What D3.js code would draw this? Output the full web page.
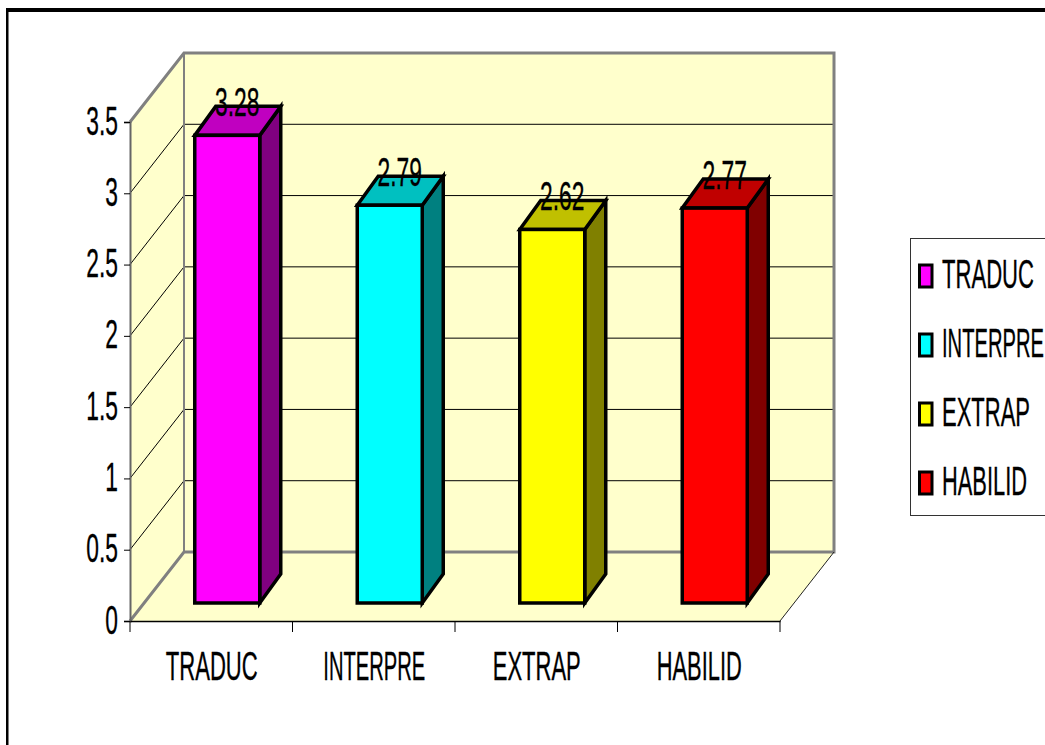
<!DOCTYPE html>
<html>
<head>
<meta charset="utf-8">
<script src="https://cdn.jsdelivr.net/npm/d3@7"></script>
<style>
html,body{margin:0;padding:0;background:#fff;overflow:hidden}
svg{display:block}
text{font-family:"Liberation Sans",Arial,sans-serif;fill:#000;stroke:#000;stroke-width:0.35px}
</style>
</head>
<body>
<svg id="chart" width="1045" height="745"></svg>
<script>
const categories = ["TRADUC", "INTERPRE", "EXTRAP", "HABILID"];
const values = [3.28, 2.79, 2.62, 2.77];
const frontColors = ["#ff00ff", "#00ffff", "#ffff00", "#ff0000"];
const topColors = ["#c000c0", "#00c0c0", "#c0c000", "#c00000"];
const sideColors = ["#800080", "#008080", "#808000", "#800000"];
const yTicks = [0, 0.5, 1, 1.5, 2, 2.5, 3, 3.5];

const svg = d3.select("#chart");

// Plot box: front plane plus the receding offset of the back wall
const left = 130, right = 780, floorY = 621, topY = 122;
const wallDx = 54, wallDy = -69;
const barDx = 21, barDy = -29;     // depth of a column
const barInsetX = 16, barInsetY = -18; // columns stand slightly behind the front edge
const barWidth = 65;

// Narrow, tall lettering: numbers share one squeeze, names have set widths
const fontSize = 40;
const numberSqueeze = 0.57;
const nameWidth = { TRADUC: 92, INTERPRE: 102, EXTRAP: 88, HABILID: 85 };

const y = d3.scaleLinear().domain([0, 3.5]).range([floorY, topY]);
const x = d3.scaleBand().domain(categories).range([left, right]);
const poly = pts => pts.map(p => p.join(",")).join(" ");

// Squeeze a name horizontally until it spans its set width
function placeName(sel, px, py) {
  sel.each(function (d) {
    const natural = this.getComputedTextLength();
    d3.select(this).attr("transform", `translate(${px(d)},${py}) scale(${nameWidth[d] / natural},1)`);
  });
}

// Outer frame: heavy top, lighter left, open past the right and bottom page edges
svg.append("rect").attr("x", 6).attr("y", 8).attr("width", 1045).attr("height", 4).attr("fill", "#000");
svg.append("rect").attr("x", 6).attr("y", 8).attr("width", 2.5).attr("height", 745).attr("fill", "#000");

// Walls and floor
const wallFill = "#ffffcc", edge = "#808080";
svg.append("polygon").attr("fill", wallFill)
  .attr("points", poly([[left + wallDx, topY + wallDy], [right + wallDx, topY + wallDy], [right + wallDx, floorY + wallDy], [left + wallDx, floorY + wallDy]]));
svg.append("polygon").attr("fill", wallFill)
  .attr("points", poly([[left, floorY], [left + wallDx, floorY + wallDy], [left + wallDx, topY + wallDy], [left, topY]]));
svg.append("polygon").attr("fill", wallFill)
  .attr("points", poly([[left, floorY], [left + wallDx, floorY + wallDy], [right + wallDx, floorY + wallDy], [right, floorY]]));

// Gridlines across side wall and back wall
const grid = svg.append("g").attr("stroke", "#000").attr("stroke-width", 1).attr("fill", "none");
yTicks.filter(t => t > 0 && t < 3.5).forEach(t => {
  grid.append("polyline").attr("points", poly([[left, y(t)], [left + wallDx, y(t) + wallDy], [right + wallDx, y(t) + wallDy]]));
});

// Wall edges
const edges = svg.append("g").attr("fill", "none").attr("stroke", edge);
edges.append("polyline").attr("stroke-width", 3)
  .attr("points", poly([[left, topY], [left + wallDx, topY + wallDy], [right + wallDx, topY + wallDy], [right + wallDx, floorY + wallDy], [left + wallDx, floorY + wallDy], [left, floorY]]));
edges.append("line").attr("stroke-width", 2)
  .attr("x1", left + wallDx).attr("x2", left + wallDx).attr("y1", topY + wallDy).attr("y2", floorY + wallDy);

// Right floor edge
svg.append("line").attr("stroke", "#222").attr("stroke-width", 1)
  .attr("x1", right).attr("y1", floorY).attr("x2", right + wallDx).attr("y2", floorY + wallDy);

// Axes
const yAxis = svg.append("g").attr("transform", `translate(${left},0)`)
  .call(d3.axisLeft(y).tickValues(yTicks).tickSize(6).tickFormat(d3.format("~g")));
yAxis.select(".domain").attr("stroke", "#666").attr("stroke-width", 2);
yAxis.selectAll(".tick text").remove();
yAxis.selectAll(".tick").append("text")
  .attr("text-anchor", "end").attr("font-size", fontSize)
  .attr("transform", `translate(-12,12) scale(${numberSqueeze},1)`)
  .text(d => d3.format("~g")(d));

const xAxis = svg.append("g").attr("transform", `translate(0,${floorY})`)
  .call(d3.axisBottom(x).tickSize(0).tickFormat(""));
xAxis.select(".domain").attr("stroke", "#000").attr("stroke-width", 1.5);
xAxis.selectAll(".tick").remove();
const boundaries = categories.map(c => x(c)).concat(right);
xAxis.selectAll(".bound").data(boundaries).join("line").attr("class", "bound")
  .attr("stroke", "#000").attr("x1", d => d).attr("x2", d => d).attr("y1", 0).attr("y2", 11);
xAxis.selectAll(".cat").data(categories).join("text").attr("class", "cat")
  .attr("text-anchor", "middle").attr("font-size", fontSize)
  .text(d => d)
  .call(placeName, d => x(d) + x.bandwidth() / 2 + 0.5, 59);

// Columns
const base = floorY + barInsetY;
const bars = svg.append("g").selectAll("g").data(categories).join("g")
  .attr("stroke", "#000").attr("stroke-width", 3.5).attr("stroke-linejoin", "miter");
const barX = d => x(d) + x.bandwidth() / 2 + barInsetX - barWidth / 2;
const barTop = (d, i) => base - (floorY - y(values[i]));
bars.append("polygon").attr("fill", (d, i) => sideColors[i])
  .attr("points", (d, i) => poly([[barX(d) + barWidth, base], [barX(d) + barWidth + barDx, base + barDy], [barX(d) + barWidth + barDx, barTop(d, i) + barDy], [barX(d) + barWidth, barTop(d, i)]]));
bars.append("polygon").attr("fill", (d, i) => topColors[i])
  .attr("points", (d, i) => poly([[barX(d), barTop(d, i)], [barX(d) + barDx, barTop(d, i) + barDy], [barX(d) + barWidth + barDx, barTop(d, i) + barDy], [barX(d) + barWidth, barTop(d, i)]]));
bars.append("rect").attr("fill", (d, i) => frontColors[i])
  .attr("x", barX).attr("y", barTop).attr("width", barWidth).attr("height", (d, i) => base - barTop(d, i));

// Value labels sit over the top face of each column
svg.append("g").selectAll("text").data(categories).join("text")
  .attr("text-anchor", "middle").attr("font-size", fontSize)
  .attr("transform", (d, i) => `translate(${barX(d) + barWidth / 2 + 10},${barTop(d, i) - 19.5}) scale(${numberSqueeze},1)`)
  .text((d, i) => values[i]);

// Legend
svg.append("rect").attr("x", 910.5).attr("y", 238.5).attr("width", 160).attr("height", 277)
  .attr("fill", "#fff").attr("stroke", "#333").attr("stroke-width", 1);
const legendY = d3.scalePoint().domain(categories).range([276, 483]);
const legend = svg.append("g").selectAll("g").data(categories).join("g");
legend.append("rect").attr("x", 919.5).attr("width", 12.5).attr("height", 22)
  .attr("y", d => legendY(d) - 11)
  .attr("fill", (d, i) => frontColors[i]).attr("stroke", "#000").attr("stroke-width", 3);
legend.append("text").attr("font-size", fontSize)
  .text(d => d)
  .each(function (d) {
    const natural = this.getComputedTextLength();
    d3.select(this).attr("transform", `translate(942,${legendY(d) + 12}) scale(${nameWidth[d] / natural},1)`);
  });
</script>
</body>
</html>
